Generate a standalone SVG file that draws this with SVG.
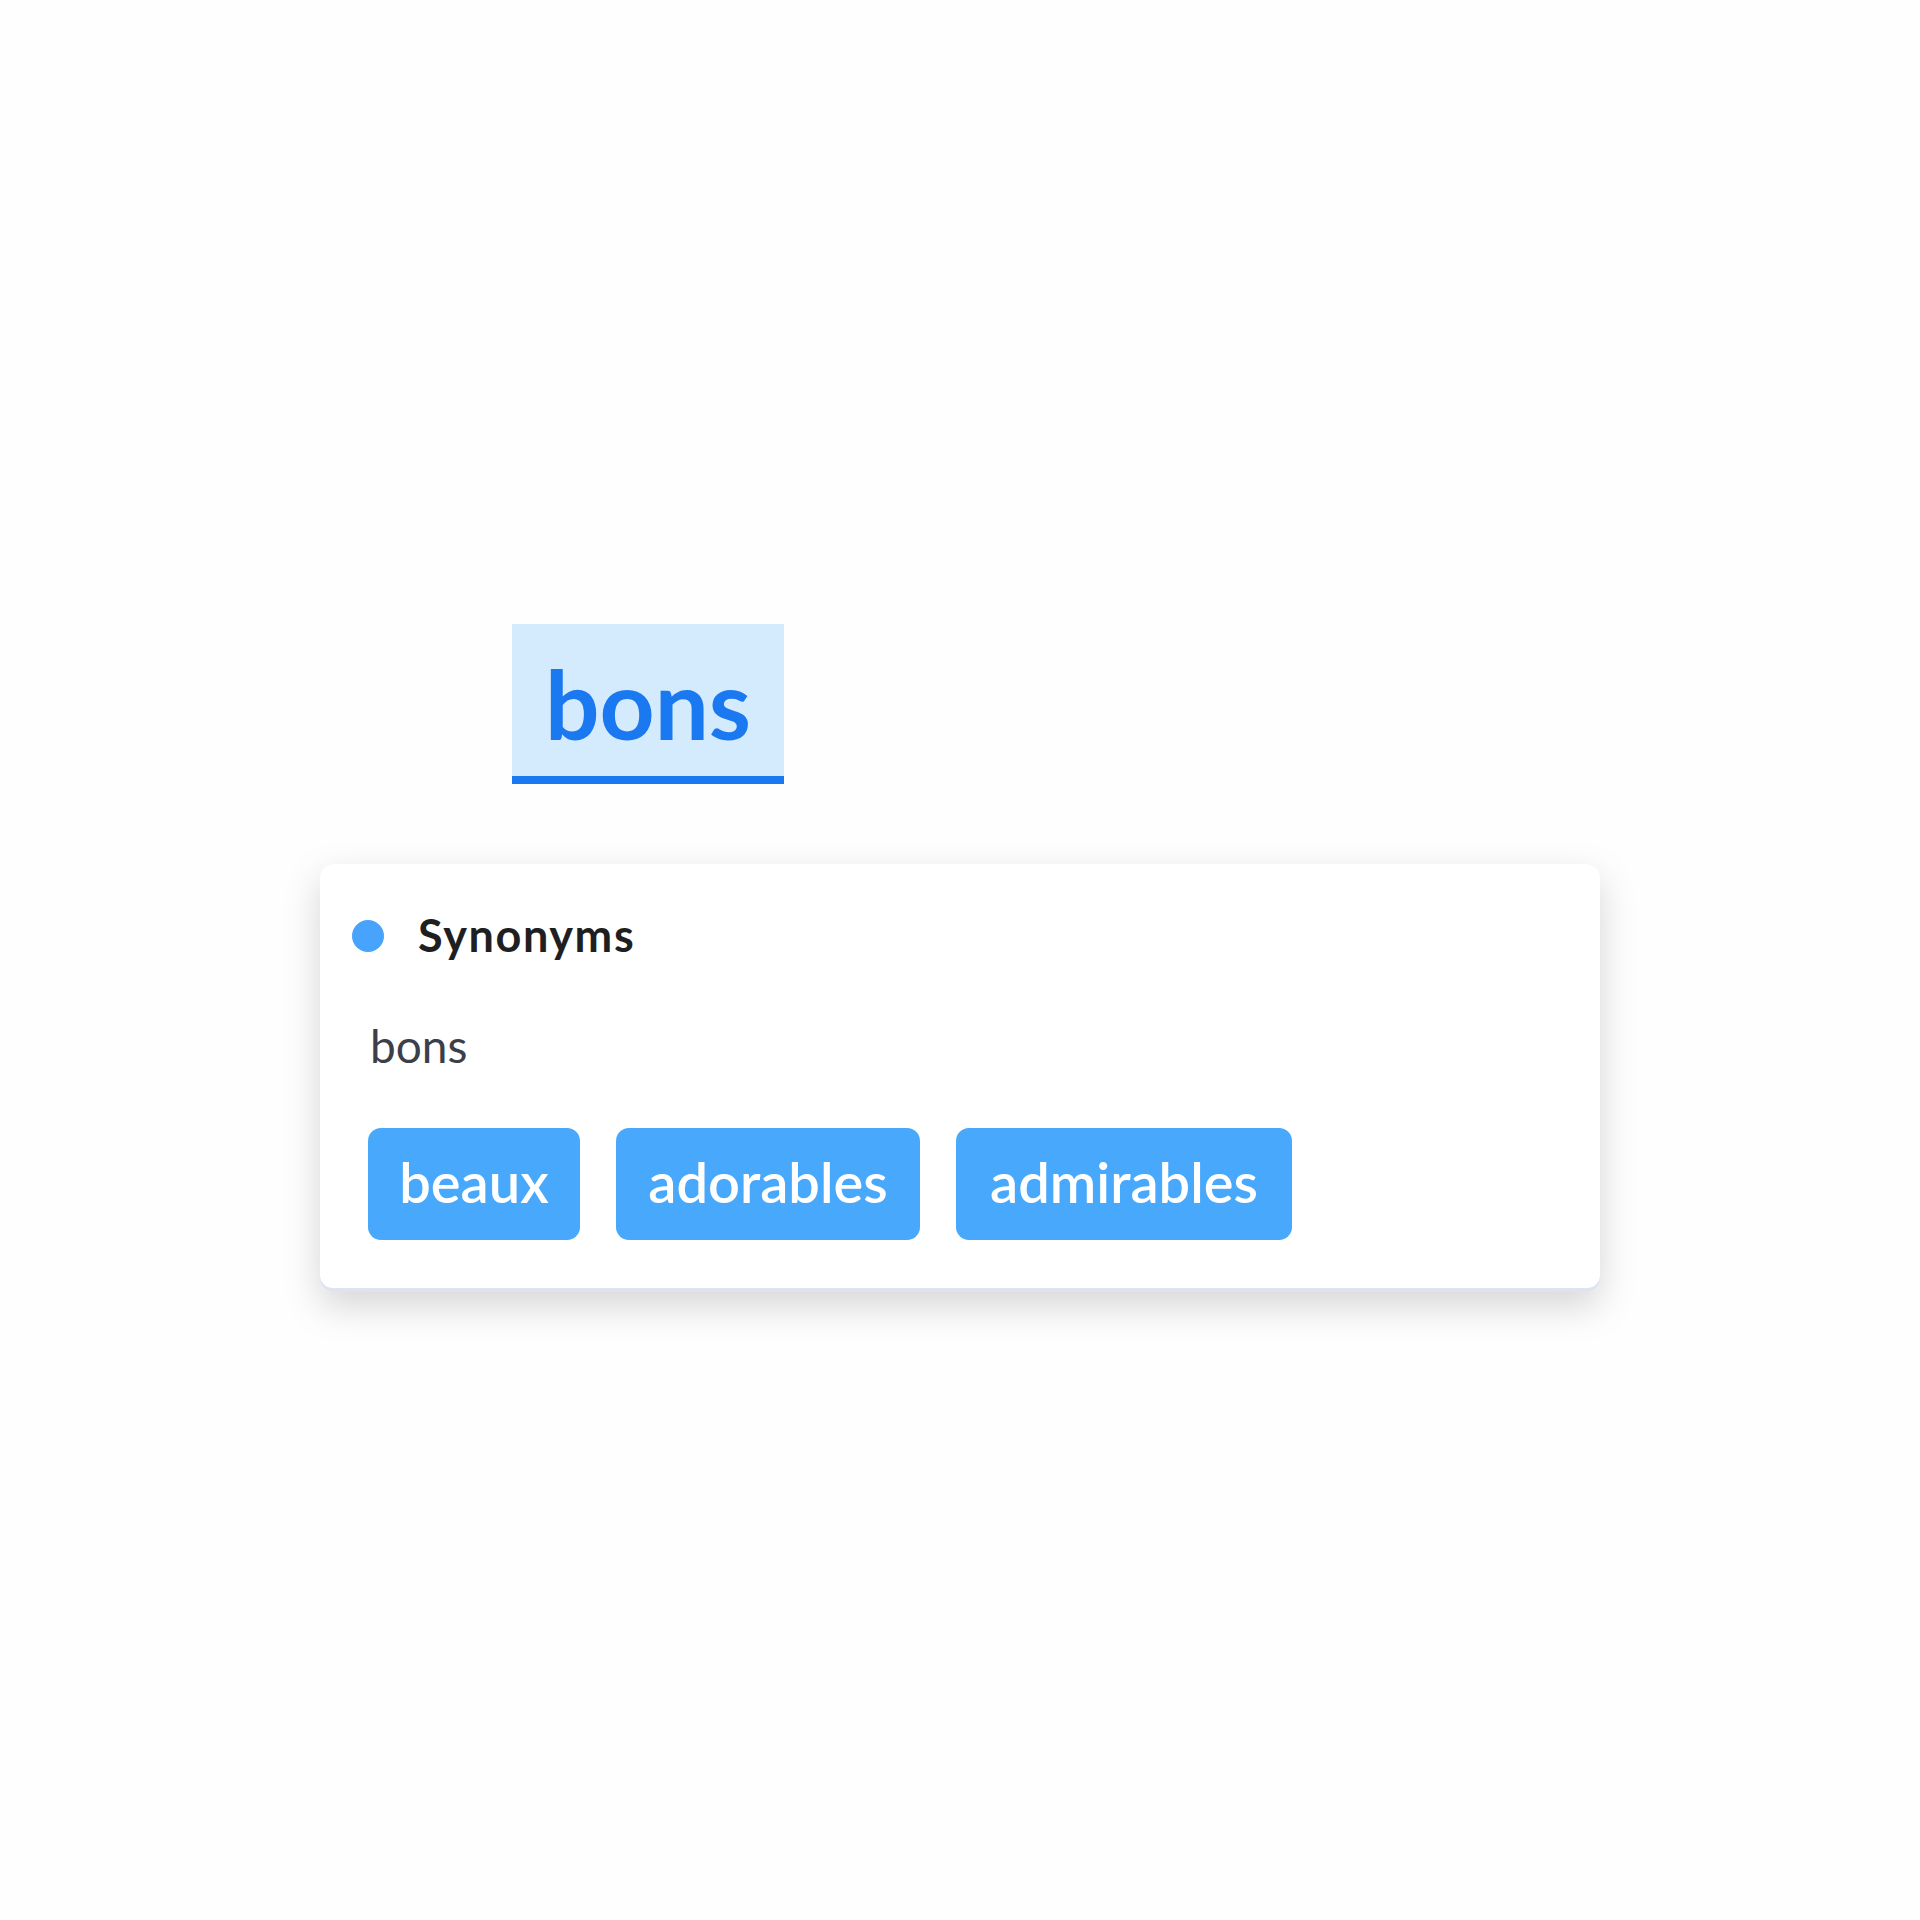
<svg xmlns="http://www.w3.org/2000/svg" width="1920" height="1920" viewBox="0 0 1920 1920">
  <defs>
    <filter id="shadow" x="-10%" y="-20%" width="120%" height="150%">
      <feDropShadow dx="0" dy="14" stdDeviation="18" flood-color="#000000" flood-opacity="0.16"/>
    </filter>
    <style>
      .chip { fill: #47a8fc; }
      .chipText { font-family: Lato, "Noto Sans", sans-serif; font-weight: 600; font-size: 56px; fill: #ffffff; text-anchor: middle; }
    </style>
  </defs>
  <rect x="0" y="0" width="1920" height="1920" fill="#fefefe"/>

  <g id="headword">
    <rect x="512" y="624" width="272" height="160" fill="#d4eafd"/>
    <rect x="512" y="776" width="272" height="8" fill="#1a78f0"/>
    <text x="648" y="740" font-family="Lato, 'Noto Sans', sans-serif" font-weight="700" font-size="96" fill="#1a78f0" text-anchor="middle">bons</text>
  </g>

  <g id="card">
    <rect x="320" y="864" width="1280" height="428" rx="13" fill="#dfe3ef" filter="url(#shadow)"/>
    <rect x="320" y="864" width="1280" height="424" rx="13" fill="#ffffff"/>
    <circle cx="368" cy="936" r="16" fill="#47a3fb"/>
    <text x="418" y="952" font-family="Lato, 'Noto Sans', sans-serif" font-weight="700" font-size="45" letter-spacing="1.6" fill="#1f1f22">Synonyms</text>
    <text x="370" y="1063" font-family="Lato, 'Noto Sans', sans-serif" font-weight="400" font-size="46" fill="#3c3f4a">bons</text>
  </g>

  <g id="chip-beaux">
    <rect class="chip" x="368" y="1128" width="212" height="112" rx="13"/>
    <text class="chipText" x="474" y="1203">beaux</text>
  </g>
  <g id="chip-adorables">
    <rect class="chip" x="616" y="1128" width="304" height="112" rx="13"/>
    <text class="chipText" x="768" y="1203">adorables</text>
  </g>
  <g id="chip-admirables">
    <rect class="chip" x="956" y="1128" width="336" height="112" rx="13"/>
    <text class="chipText" x="1124" y="1203">admirables</text>
  </g>

  <g id="connectors"/>
</svg>
